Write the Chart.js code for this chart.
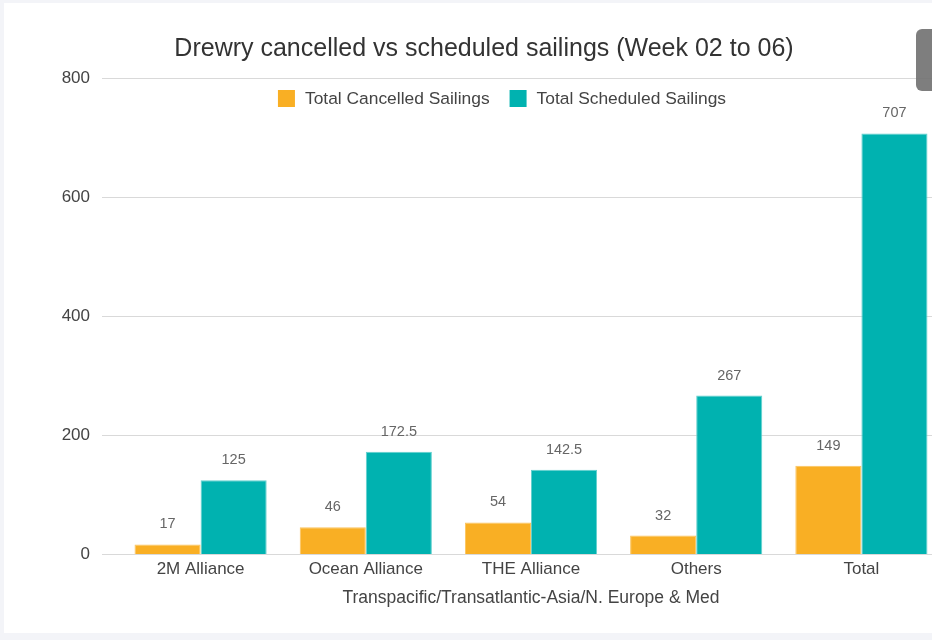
<!DOCTYPE html>
<html>
<head>
<meta charset="utf-8">
<title>Drewry cancelled vs scheduled sailings</title>
<script src="https://cdn.jsdelivr.net/npm/chart.js@4.4.1/dist/chart.umd.min.js"></script>
<style>
    html, body { margin: 0; padding: 0; }
    body {
        width: 932px;
        height: 640px;
        overflow: hidden;
        background: #f3f4f8;
        position: relative;
        font-family: "Liberation Sans", Arial, sans-serif;
    }
    #card {
        position: absolute;
        left: 4px;
        top: 3px;
        width: 960px;
        height: 630px;
        background: #ffffff;
    }
    #menuBtn {
        position: absolute;
        left: 916px;
        top: 29px;
        width: 30px;
        height: 62px;
        border-radius: 6px;
        background: rgba(115, 115, 115, 0.92);
    }
</style>
</head>
<body>
<div id="card">
    <canvas id="myChart" width="960" height="630"></canvas>
</div>
<div id="menuBtn"></div>

<script>
"use strict";

// values
const categories = ["2M Alliance", "Ocean Alliance", "THE Alliance", "Others", "Total"];
const cancelled  = [17, 46, 54, 32, 149];
const scheduled  = [125, 172.5, 142.5, 267, 707];
const yTicks     = [0, 200, 400, 600, 800];

const seriesNames = ["Total Cancelled Sailings", "Total Scheduled Sailings"];
const orange = "#f9af24";
const teal   = "#00b2b0";

const fontFamily = '"Liberation Sans", Arial, sans-serif';

// values printed above every bar
const valueLabels = {
    id: "valueLabels",
    afterDatasetsDraw(chart) {
        const ctx = chart.ctx;
        ctx.save();
        ctx.font = "14.5px " + fontFamily;
        ctx.fillStyle = "#666666";
        ctx.textAlign = "center";
        ctx.textBaseline = "middle";
        chart.data.datasets.forEach(function (ds, i) {
            chart.getDatasetMeta(i).data.forEach(function (bar, j) {
                ctx.fillText(String(ds.data[j]), bar.x, bar.y - 20);
            });
        });
        ctx.restore();
    }
};

// legend sits inside the plot, just under the top grid line
const innerLegend = {
    id: "innerLegend",
    afterDraw(chart) {
        const ctx = chart.ctx;
        const box = 17, gap = 10, itemGap = 20;
        ctx.save();
        ctx.font = "17.4px " + fontFamily;
        ctx.textBaseline = "middle";

        const items = chart.data.datasets.map(function (ds) {
            return { text: ds.label, color: ds.backgroundColor, w: ctx.measureText(ds.label).width };
        });
        let total = 0;
        items.forEach(function (it, i) {
            total += box + gap + it.w + (i > 0 ? itemGap : 0);
        });

        let x = chart.width / 2 + 18 - total / 2;
        const y = chart.chartArea.top + 20.5;
        items.forEach(function (it) {
            ctx.fillStyle = it.color;
            ctx.fillRect(x, y - box / 2, box, box);
            ctx.fillStyle = "#444444";
            ctx.fillText(it.text, x + box + gap, y + 1);
            x += box + gap + it.w + itemGap;
        });
        ctx.restore();
    }
};

function buildChart() {
    const ctx = document.getElementById("myChart").getContext("2d");

    return new Chart(ctx, {
        type: "bar",
        data: {
            labels: categories,
            datasets: [{
                label: seriesNames[0],
                data: cancelled,
                backgroundColor: orange,
                borderColor: "#fbc35c",
                borderWidth: 1
            }, {
                label: seriesNames[1],
                data: scheduled,
                backgroundColor: teal,
                borderColor: "#62d0ce",
                borderWidth: 1
            }]
        },
        options: {
            responsive: false,
            animation: false,
            devicePixelRatio: 1,
            categoryPercentage: 0.8,
            barPercentage: 1.0,
            layout: {
                padding: { left: 20, right: 20, top: 0, bottom: 24 }
            },
            plugins: {
                legend: { display: false },
                tooltip: { enabled: false },
                title: {
                    display: true,
                    text: "Drewry cancelled vs scheduled sailings (Week 02 to 06)",
                    color: "#333333",
                    font: { family: fontFamily, size: 25, weight: "normal" },
                    padding: { top: 31, bottom: 14 }
                }
            },
            scales: {
                x: {
                    grid: { display: false, drawTicks: false },
                    border: { display: false },
                    ticks: {
                        color: "#444444",
                        padding: 5,
                        font: { family: fontFamily, size: 17 }
                    },
                    title: {
                        display: true,
                        text: "Transpacific/Transatlantic-Asia/N. Europe & Med",
                        color: "#444444",
                        font: { family: fontFamily, size: 17.5 },
                        padding: { top: 3, bottom: 0 }
                    }
                },
                y: {
                    min: 0,
                    max: 800,
                    afterFit(scale) { scale.width = 94; },
                    afterBuildTicks(scale) {
                        scale.ticks = yTicks.map(function (v) { return { value: v }; });
                    },
                    grid: {
                        color: "#d9d9d9",
                        lineWidth: 1,
                        tickLength: 16
                    },
                    border: { display: false },
                    ticks: {
                        color: "#444444",
                        padding: 12,
                        font: { family: fontFamily, size: 17 }
                    }
                }
            }
        },
        plugins: [valueLabels, innerLegend]
    });
}

buildChart();
</script>
</body>
</html>
